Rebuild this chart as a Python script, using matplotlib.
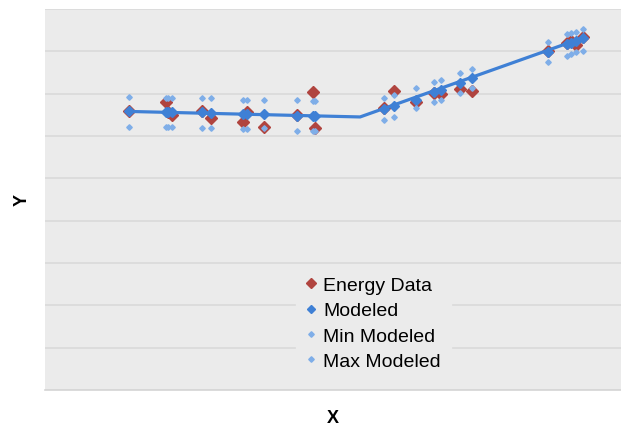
import matplotlib.pyplot as plt
from matplotlib.lines import Line2D

plt.rcParams['font.family'] = ['Liberation Sans', 'DejaVu Sans']

# outdoor variable (x) and observed / modeled response (y)
x = [14.6, 21.0, 21.3, 22.0, 27.3, 28.8, 34.4, 35.1, 38.0, 43.8, 46.6, 46.8,
     58.9, 60.6, 64.4, 67.5, 68.8, 72.0, 74.1, 87.3, 90.6, 91.3, 92.2, 93.4]
energy = [6.59, 6.80, 6.56, 6.49, 6.60, 6.43, 6.33, 6.57, 6.22, 6.50, 7.04, 6.20,
          6.67, 7.07, 6.81, 7.01, 6.99, 7.10, 7.06, 8.01, 8.20, 8.24, 8.15, 8.34]
modeled = [6.58, 6.57, 6.57, 6.56, 6.56, 6.54, 6.53, 6.53, 6.51, 6.48, 6.47, 6.47,
           6.64, 6.71, 6.86, 7.03, 7.09, 7.25, 7.38, 7.98, 8.17, 8.20, 8.24, 8.32]
min_modeled = [6.21, 6.21, 6.21, 6.21, 6.19, 6.19, 6.17, 6.17, 6.19, 6.12, 6.12, 6.12,
               6.38, 6.46, 6.65, 6.80, 6.86, 7.02, 7.13, 7.75, 7.89, 7.94, 7.98, 8.01]
max_modeled = [6.91, 6.90, 6.90, 6.90, 6.89, 6.89, 6.85, 6.85, 6.85, 6.85, 6.83, 6.83,
               6.89, 6.96, 7.13, 7.28, 7.33, 7.49, 7.59, 8.22, 8.41, 8.43, 8.46, 8.53]

# change-point model line (start, balance point, end)
fit_x = [14.6, 54.7, 93.4]
fit_y = [6.58, 6.45, 8.32]

red = '#B0443F'
blue = '#3F80D5'
light = '#7FAEE8'
bg = '#EBEBEB'

fig = plt.figure(figsize=(6.21, 4.27), dpi=100)
ax = fig.add_axes([45 / 621, 1 - 391 / 427, 576 / 621, 381 / 427])
ax.set_facecolor(bg)

ax.plot(x, energy, 'D', color=red, markersize=6.5, zorder=3)
ax.plot(fit_x, fit_y, '-', color=blue, linewidth=2.3, zorder=4)
ax.plot(x, modeled, 'D', color=blue, markersize=5.5, zorder=5)
ax.plot(x, min_modeled, 'D', color=light, markersize=2.8, zorder=6)
ax.plot(x, max_modeled, 'D', color=light, markersize=2.8, zorder=6)

ax.set_xlim(0, 100)
ax.set_ylim(0, 9)
ax.set_yticks(range(1, 10))
ax.set_xticks([])
ax.tick_params(axis='y', length=0, labelleft=False)
ax.grid(axis='y', color='#DADADA', linewidth=1.2)
ax.set_axisbelow(True)
for side in ['top', 'left', 'right']:
    ax.spines[side].set_visible(False)
ax.spines['bottom'].set_color('#D4D4D4')
ax.spines['bottom'].set_linewidth(1.2)

ax.set_xlabel('X', fontsize=13, fontweight='bold', labelpad=14)
ax.set_ylabel('Y', fontsize=13, fontweight='bold', labelpad=10)

handles = [
    Line2D([], [], marker='D', color=red, linestyle='none', markersize=5.5),
    Line2D([], [], marker='D', color=blue, linestyle='none', markersize=4.5),
    Line2D([], [], marker='D', color=light, linestyle='none', markersize=2.8),
    Line2D([], [], marker='D', color=light, linestyle='none', markersize=2.8),
]
labels = ['Energy Data', 'Modeled', 'Min Modeled', 'Max Modeled']
leg = ax.legend(handles, labels, loc='center', bbox_to_anchor=(0.57, 0.175),
                frameon=True, fontsize=14, handlelength=0.55, handletextpad=0.35,
                labelspacing=0.4, borderpad=0.5, borderaxespad=0)
leg.get_frame().set_facecolor(bg)
leg.get_frame().set_edgecolor(bg)
leg.get_frame().set_alpha(1)
leg.get_frame().set_boxstyle('square', pad=0)

fig.savefig('out.png', dpi=100)
